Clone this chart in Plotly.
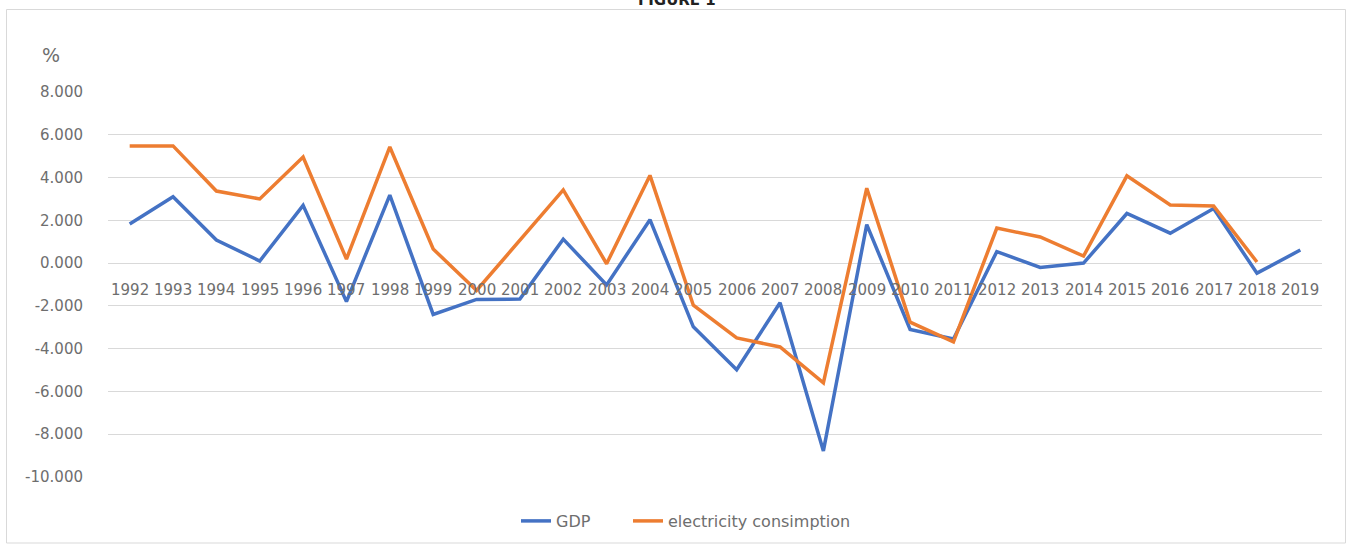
import plotly.graph_objects as go

years = [str(y) for y in range(1992, 2020)]
gdp = [1.83, 3.10, 1.08, 0.10, 2.70, -1.80, 3.18, -2.40, -1.70, -1.68,
       1.12, -1.02, 2.03, -2.98, -4.98, -1.85, -8.78, 1.80, -3.10, -3.55,
       0.54, -0.20, 0.00, 2.32, 1.40, 2.55, -0.47, 0.61]
elec = [5.48, 5.48, 3.37, 3.00, 4.96, 0.19, 5.43, 0.66, -1.28, 1.05,
        3.42, -0.03, 4.10, -1.97, -3.50, -3.92, -5.60, 3.50, -2.76, -3.68,
        1.64, 1.22, 0.33, 4.08, 2.72, 2.67, 0.05, None]
ytick_vals = [8, 6, 4, 2, 0, -2, -4, -6, -8, -10]
ytick_text = ["8.000", "6.000", "4.000", "2.000", "0.000", "-2.000",
              "-4.000", "-6.000", "-8.000", "-10.000"]

W, H = 1349, 544
L, R, T, B = 108, 1322, 92, 477

FONT = "DejaVu Sans"
GRAY = "#6e6e6e"

fig = go.Figure()
fig.add_trace(go.Scatter(x=years, y=gdp, mode="lines", name="GDP",
                         line=dict(color="#4472C4", width=3.5), legend="legend"))
fig.add_trace(go.Scatter(x=years, y=elec, mode="lines", name="electricity consimption",
                         line=dict(color="#ED7D31", width=3.5), legend="legend2"))

def px2paper_x(px):
    return (px - L) / (R - L)

def px2paper_y(py):
    return (B - py) / (B - T)

annotations = []
for i, yr in enumerate(years):
    annotations.append(dict(x=i, y=0, xref="x", yref="y", text=yr,
                            showarrow=False, yanchor="middle", yshift=-27,
                            font=dict(family=FONT, size=15, color=GRAY)))
annotations.append(dict(x=px2paper_x(51), y=px2paper_y(55), xref="paper", yref="paper",
                        text="%", showarrow=False, xanchor="center", yanchor="middle",
                        font=dict(family=FONT, size=19, color=GRAY)))
annotations.append(dict(x=px2paper_x(677), y=px2paper_y(0), xref="paper", yref="paper",
                        text="<b>FIGURE 1</b>", showarrow=False, xanchor="center",
                        yanchor="middle", font=dict(family=FONT, size=15, color="#222")))

shapes = [dict(type="rect", xref="paper", yref="paper",
               x0=px2paper_x(6.5), x1=px2paper_x(1345.5),
               y0=px2paper_y(543), y1=px2paper_y(9.5),
               line=dict(color="#d9d9d9", width=1), fillcolor="rgba(0,0,0,0)",
               layer="below")]

leg_common = dict(orientation="h", xref="container", yref="container",
                  xanchor="left", y=1 - 521 / H, yanchor="middle",
                  font=dict(family=FONT, size=16, color=GRAY),
                  borderwidth=0, bgcolor="rgba(0,0,0,0)")

fig.update_layout(
    width=W, height=H,
    margin=dict(l=L, r=W - R, t=T, b=H - B, pad=0),
    paper_bgcolor="white", plot_bgcolor="white",
    font=dict(family=FONT, color=GRAY, size=15),
    showlegend=True,
    legend=dict(x=516 / W, **leg_common),
    legend2=dict(x=628 / W, **leg_common),
    annotations=annotations,
    shapes=shapes,
)
fig.update_xaxes(type="category", range=[-0.5, len(years) - 0.5],
                 showticklabels=False, showgrid=False, zeroline=False,
                 showline=False, ticks="")
fig.update_yaxes(range=[-10, 8], tickvals=ytick_vals, ticktext=ytick_text,
                 showgrid=True, gridcolor="#d9d9d9", gridwidth=1,
                 zeroline=True, zerolinecolor="#d9d9d9", zerolinewidth=1,
                 showline=False, ticks="", ticklabelstandoff=24,
                 tickfont=dict(family=FONT, size=15, color=GRAY))

fig.write_html("out.html")
